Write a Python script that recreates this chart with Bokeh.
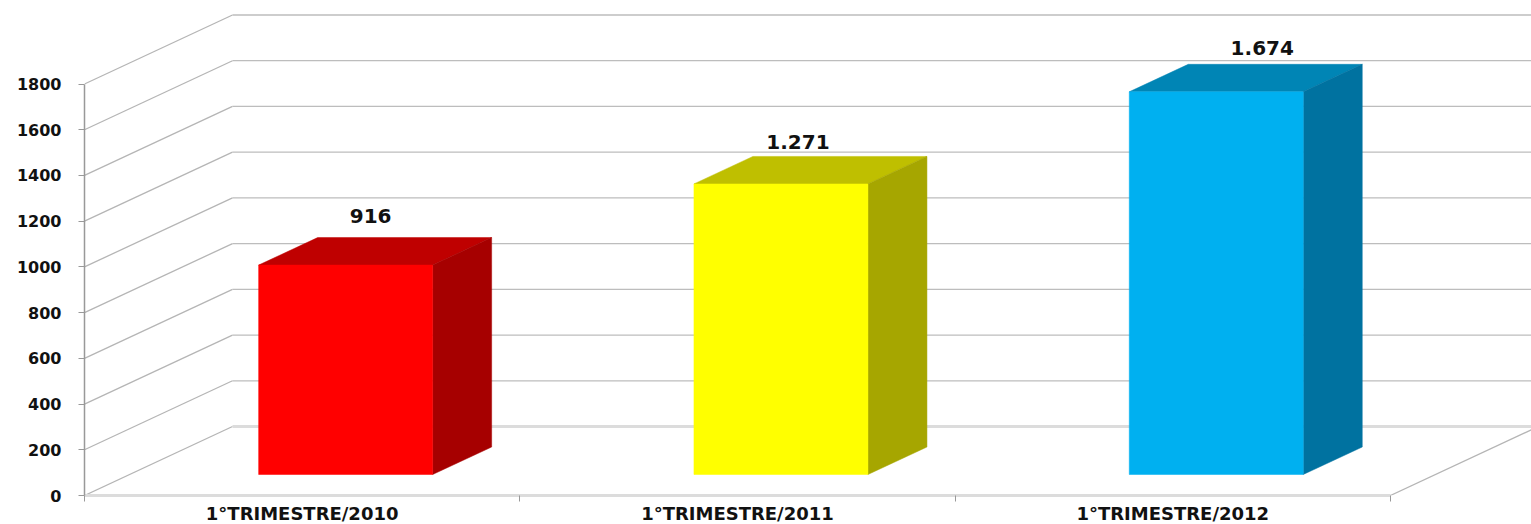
from bokeh.plotting import figure
from bokeh.models import Range1d, LinearAxis, FixedTicker
from bokeh.core.properties import value
from bokeh.embed import file_html
from bokeh.resources import INLINE

categories = ["1°TRIMESTRE/2010", "1°TRIMESTRE/2011", "1°TRIMESTRE/2012"]
values = [916, 1271, 1674]
value_labels = ["916", "1.271", "1.674"]
y_ticks = [0, 200, 400, 600, 800, 1000, 1200, 1400, 1600, 1800]
front_colors = ["#ff0000", "#ffff00", "#00b0f0"]
top_colors = ["#bf0000", "#bfbf00", "#0085b5"]
side_colors = ["#a60000", "#a6a600", "#0072a0"]

# layout (pixels of the plotting frame)
FRAME_W, FRAME_H = 1447, 495
PX_PER_CAT = 435.3
PX_PER_VAL = 411.5 / 1800
cx = lambda px: px / PX_PER_CAT
vy = lambda px: px / PX_PER_VAL
x_max, y_max = FRAME_W / PX_PER_CAT, FRAME_H / PX_PER_VAL
DEPTH_X, DEPTH_Y = cx(148), vy(69)
BAR_W, BAR_DX, BAR_DY = cx(174), cx(43.5), vy(21)
SIDE_X, SIDE_Y = cx(59), vy(27.5)
label_dx = [25, 17, 46]
label_dy = [49, 42, 44]

p = figure(frame_width=FRAME_W, frame_height=FRAME_H, output_backend="svg", toolbar_location=None,
           x_range=Range1d(0, x_max), y_range=Range1d(0, y_max),
           x_axis_type=None, y_axis_type=None,
           min_border_left=84, min_border_right=0, min_border_top=0, min_border_bottom=29,
           outline_line_color=None, background_fill_color="white", border_fill_color="white")
p.grid.visible = False

FONT = "DejaVu Sans"
yaxis = LinearAxis(ticker=FixedTicker(ticks=y_ticks), bounds=(0, 1800),
                   axis_line_color="#999999", axis_line_width=1.5,
                   major_tick_line_color="#999999", major_tick_in=0, major_tick_out=6,
                   minor_tick_line_color=None,
                   major_label_text_font=FONT, major_label_text_font_style="bold",
                   major_label_text_font_size="16px", major_label_text_color="#111111",
                   major_label_standoff=17)
p.add_layout(yaxis, "left")

n = len(categories)
centers = [i + 0.5 for i in range(n)]
xaxis = LinearAxis(ticker=FixedTicker(ticks=centers, minor_ticks=list(range(n + 1))),
                   bounds=(0, n),
                   major_label_overrides={c: t for c, t in zip(centers, categories)},
                   axis_line_color="#dcdcdc", axis_line_width=3, major_tick_line_color=None,
                   minor_tick_line_color="#999999", minor_tick_in=0, minor_tick_out=6,
                   major_label_text_font=FONT, major_label_text_font_style="bold",
                   major_label_text_font_size="18px", major_label_text_color="#111111",
                   major_label_standoff=1)
p.add_layout(xaxis, "below")

# walls: side-wall diagonals and back-wall lines
for t in y_ticks:
    base = t == 0
    color, width = ("#dcdcdc", 3) if base else ("#bdbdbd", 1.3)
    p.line([0, DEPTH_X], [t, t + DEPTH_Y], line_color="#b5b5b5", line_width=1.3)
    p.line([DEPTH_X, x_max], [t + DEPTH_Y, t + DEPTH_Y], line_color=color, line_width=width)
# floor right edge
p.line([n, n + DEPTH_X], [0, DEPTH_Y], line_color="#b5b5b5", line_width=1.3)

# bars: front, top and side faces
for i, v in enumerate(values):
    x0 = i + 0.5 + BAR_DX - BAR_W / 2
    x1 = x0 + BAR_W
    y0, y1 = BAR_DY, BAR_DY + v
    p.patch([x0, x1, x1 + SIDE_X, x0 + SIDE_X], [y1, y1, y1 + SIDE_Y, y1 + SIDE_Y],
            fill_color=top_colors[i], line_color=top_colors[i], line_width=0.5)
    p.patch([x1, x1 + SIDE_X, x1 + SIDE_X, x1], [y0, y0 + SIDE_Y, y1 + SIDE_Y, y1],
            fill_color=side_colors[i], line_color=side_colors[i], line_width=0.5)
    p.quad(left=x0, right=x1, bottom=y0, top=y1, fill_color=front_colors[i],
           line_color=front_colors[i], line_width=0.5)
    p.text(x=[x0 + BAR_W / 2], y=[y1], text=[value_labels[i]],
           x_offset=label_dx[i], y_offset=-label_dy[i], text_align="center",
           text_baseline="alphabetic", text_font=value(FONT), text_font_style="bold",
           text_font_size="20px", text_color="#111111")

open("out.html", "w").write(file_html(p, INLINE))
